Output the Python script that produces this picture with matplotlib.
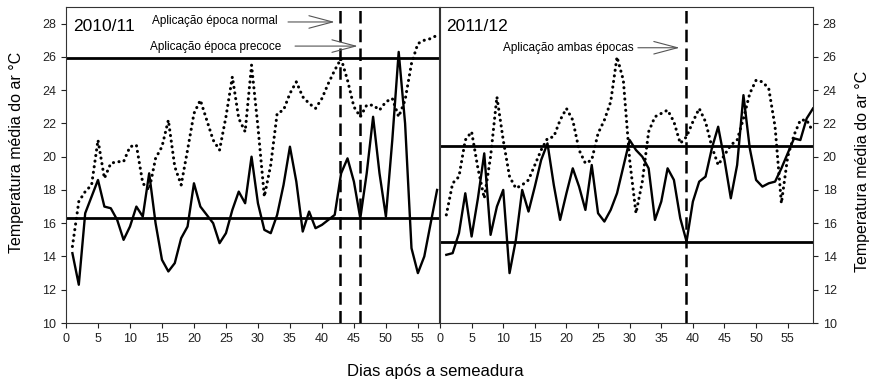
import matplotlib
matplotlib.use("Agg")
import matplotlib.pyplot as plt
import numpy as np

plt.rcParams['font.family'] = ['Liberation Sans', 'DejaVu Sans']

# ----------------- data -----------------
# 2010/11 season (days 1..58)
solid_2010 = [14.2, 12.3, 16.6, 17.6, 18.6, 17.0, 16.9, 16.2, 15.0, 15.8,
              17.0, 16.4, 19.0, 16.0, 13.8, 13.1, 13.6, 15.1, 15.8, 18.4,
              17.0, 16.5, 16.0, 14.8, 15.4, 16.8, 17.9, 17.2, 20.0, 17.2,
              15.6, 15.4, 16.5, 18.3, 20.6, 18.5, 15.5, 16.7, 15.7, 15.9,
              16.2, 16.5, 19.0, 19.9, 18.5, 16.3, 19.0, 22.4, 19.0, 16.4,
              21.0, 26.3, 22.0, 14.5, 13.0, 14.0, 16.0, 18.0]
dotted_2010 = [14.6, 17.3, 17.9, 18.3, 21.0, 18.7, 19.6, 19.7, 19.7, 20.6,
               20.7, 18.4, 18.0, 19.9, 20.6, 22.2, 19.4, 18.3, 20.4, 22.6,
               23.4, 22.2, 21.0, 20.4, 22.4, 24.8, 22.3, 21.5, 25.5, 21.8,
               17.6, 19.5, 22.6, 22.8, 23.8, 24.5, 23.6, 23.2, 22.9, 23.5,
               24.4, 25.2, 25.9, 24.6, 23.0, 22.4, 23.1, 23.1, 22.8, 23.3,
               23.5, 22.4, 23.4, 25.6, 26.8, 27.0, 27.1, 27.3]
days_2010 = np.arange(1, len(solid_2010) + 1)
hlines_2010 = [25.95, 16.3]
vlines_2010 = [42.8, 46.0]

# 2011/12 season (days 1..59)
solid_2011 = [14.1, 14.2, 15.4, 17.8, 15.2, 17.5, 20.2, 15.3, 17.0, 18.0,
              13.0, 15.0, 18.0, 16.7, 18.2, 19.8, 20.8, 18.3, 16.2, 17.8,
              19.3, 18.2, 16.8, 19.5, 16.6, 16.1, 16.8, 17.8, 19.4, 21.0,
              20.4, 20.0, 19.3, 16.2, 17.3, 19.3, 18.6, 16.3, 14.9, 17.3,
              18.5, 18.8, 20.5, 21.8, 19.8, 17.5, 19.5, 23.7, 20.5, 18.6,
              18.2, 18.4, 18.5, 19.3, 20.2, 21.1, 21.0, 22.3, 22.9]
dotted_2011 = [16.5, 18.4, 18.8, 21.0, 21.5, 19.3, 17.5, 20.0, 23.6, 21.0,
               18.8, 18.1, 18.3, 18.6, 19.5, 20.4, 21.1, 21.2, 22.2, 22.9,
               22.2, 20.4, 19.6, 19.8, 21.4, 22.2, 23.3, 26.0, 24.6, 19.8,
               16.6, 18.5, 21.5, 22.4, 22.6, 22.8, 22.1, 20.8, 21.2, 22.1,
               22.9, 22.1, 20.6, 19.5, 20.1, 20.7, 21.0, 22.3, 23.8, 24.6,
               24.5, 24.1, 21.8, 17.2, 20.0, 21.3, 22.2, 22.2, 21.5]
days_2011 = np.arange(1, len(solid_2011) + 1)
hlines_2011 = [20.65, 14.85]
vlines_2011 = [38.9]

xticks = list(range(0, 60, 5))
yticks = list(range(10, 30, 2))
ylabel = "Temperatura média do ar °C"

# ----------------- figure -----------------
fig = plt.figure(figsize=(8.8, 3.83), dpi=100)
W, H = 880.0, 383.0
ax1 = fig.add_axes([66 / W, (383 - 323) / H, 373 / W, 316 / H])
ax2 = fig.add_axes([440 / W, (383 - 323) / H, 373 / W, 316 / H])

dot_style = dict(color='black', lw=2.2, linestyle=(0, (0.05, 1.8)),
                 dash_capstyle='round', solid_capstyle='round')
dash_style = dict(color='black', lw=1.8, linestyle=(0, (5, 2.5)))

for ax, days, solid, dotted, hl, vl in [
        (ax1, days_2010, solid_2010, dotted_2010, hlines_2010, vlines_2010),
        (ax2, days_2011, solid_2011, dotted_2011, hlines_2011, vlines_2011)]:
    ax.plot(days, dotted, **dot_style)
    ax.plot(days, solid, color='black', lw=1.7)
    for h in hl:
        ax.axhline(h, color='black', lw=2.0)
    for v in vl:
        ax.axvline(v, **dash_style)
    ax.set_ylim(10, 29)
    ax.set_xticks(xticks)
    ax.set_yticks(yticks)
    ax.tick_params(direction='out', length=3.5, width=0.8, labelsize=9,
                   colors='#222222')
    for sp in ax.spines.values():
        sp.set_linewidth(0.8)
        sp.set_color('#333333')

ax1.set_xlim(0, 58.3)
ax2.set_xlim(0, 59)

ax1.set_ylabel(ylabel, fontsize=11.5)
ax1.yaxis.set_label_coords(-0.112, 0.54)
ax2.yaxis.tick_right()
ax2.yaxis.set_label_position('right')
ax2.set_ylabel(ylabel, fontsize=11.5)
ax2.yaxis.set_label_coords(1.112, 0.48)

fig.text(0.495, 0.03, "Dias após a semeadura", ha='center', va='center',
         fontsize=12)

# season labels
ax1.text(1.1, 27.85, "2010/11", fontsize=12.5, va='center')
ax2.text(1.0, 27.85, "2011/12", fontsize=12.5, va='center')

# application notes with open arrows
arrow = dict(arrowstyle='->,head_length=1.7,head_width=0.45', color='#555555',
             lw=0.8, shrinkA=0, shrinkB=0)
ax1.text(13.5, 28.15, "Aplicação época normal", fontsize=8.5, va='center')
ax1.annotate('', xy=(42.0, 28.1), xytext=(34.7, 28.1), arrowprops=arrow)
ax1.text(13.1, 26.62, "Aplicação época precoce", fontsize=8.5, va='center')
ax1.annotate('', xy=(45.6, 26.65), xytext=(35.8, 26.65), arrowprops=arrow)
ax2.text(10.0, 26.55, "Aplicação ambas épocas", fontsize=8.5, va='center')
ax2.annotate('', xy=(37.9, 26.55), xytext=(31.3, 26.55), arrowprops=arrow)

fig.savefig("out.png", dpi=100)
